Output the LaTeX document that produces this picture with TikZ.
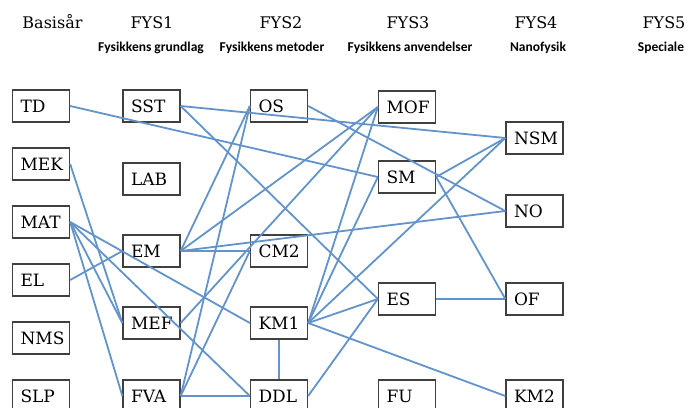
\documentclass[tikz,border=0pt]{standalone}
\usepackage{fontspec}
\setmainfont{DejaVu Serif}
\newfontfamily\subfont{Carlito}
\definecolor{linec}{RGB}{98,148,202}
\definecolor{boxc}{RGB}{64,64,64}
\tikzset{
  bx/.style={draw=boxc, line width=1.3pt, minimum width=57pt, minimum height=32pt,
    text width=41pt, align=left, inner xsep=8pt, inner ysep=0pt,
    font=\fontsize{17}{17}\selectfont},
  ln/.style={draw=linec, line width=1.8pt},
  hd/.style={font=\fontsize{16}{16}\selectfont, inner sep=0pt, anchor=base},
  sub/.style={font=\subfont\bfseries\fontsize{13.5}{13.5}\selectfont, inner sep=0pt, anchor=base}
}
\begin{document}
\begin{tikzpicture}[x=1pt,y=-1pt]
\useasboundingbox (0,0) rectangle (688,407);
\clip (0,0) rectangle (688,407);
% headers
\node[hd] (h0) at (52.5,28) {Basisår};
\node[hd] (h1) at (152,28) {FYS1};
\node[hd] (h2) at (281,28) {FYS2};
\node[hd] (h3) at (408,28) {FYS3};
\node[hd] (h4) at (536,28) {FYS4};
\node[hd] (h5) at (664,28) {FYS5};
\node[sub] (s1) at (151,51) {Fysikkens grundlag};
\node[sub] (s2) at (272,51) {Fysikkens metoder};
\node[sub] (s3) at (410,51) {Fysikkens anvendelser};
\node[sub] (s4) at (538,51) {Nanofysik};
\node[sub] (s5) at (661,51) {Speciale};
% column 0
\node[bx] (TD)  at (41,106) {TD};
\node[bx] (MEK) at (41,164) {MEK};
\node[bx] (MAT) at (41,222) {MAT};
\node[bx] (EL)  at (41,280) {EL};
\node[bx] (NMS) at (41,338) {NMS};
\node[bx] (SLP) at (41,396) {SLP};
% column 1
\node[bx] (SST) at (151.5,106) {SST};
\node[bx] (LAB) at (151.5,179) {LAB};
\node[bx] (EM)  at (151.5,251) {EM};
\node[bx] (MEF) at (151.5,323) {MEF};
\node[bx] (FVA) at (151.5,396) {FVA};
% column 2
\node[bx] (OS)  at (279,106) {OS};
\node[bx] (CM2) at (279,251) {CM2};
\node[bx] (KM1) at (279,323) {KM1};
\node[bx] (DDL) at (279,396) {DDL};
% column 3
\node[bx] (MOF) at (407,107) {MOF};
\node[bx] (SM)  at (407,177) {SM};
\node[bx] (ES)  at (407,299) {ES};
\node[bx] (FU)  at (407,396) {FU};
% column 4
\node[bx] (NSM) at (534.5,138) {NSM};
\node[bx] (NO)  at (534.5,211) {NO};
\node[bx] (OF)  at (534.5,299) {OF};
\node[bx] (KM2) at (534.5,396) {KM2};
% connectors
\draw[ln] (TD.east) -- (SM.west);
\draw[ln] (SST.east) -- (NSM.west);
\draw[ln] (SST.east) -- (ES.west);
\draw[ln] (MEK.east) -- (MEF.west);
\draw[ln] (MAT.east) -- (MEF.west);
\draw[ln] (MAT.east) -- (FVA.west);
\draw[ln] (MAT.east) -- (KM1.west);
\draw[ln] (MAT.east) -- (DDL.west);
\draw[ln] (EL.east) -- (EM.west);
\draw[ln] (OS.west) -- (EM.east);
\draw[ln] (OS.west) -- (FVA.east);
\draw[ln] (OS.east) -- (NO.west);
\draw[ln] (MOF.west) -- (EM.east);
\draw[ln] (MOF.west) -- (MEF.east);
\draw[ln] (MOF.west) -- (KM1.east);
\draw[ln] (EM.east) -- (CM2.west);
\draw[ln] (EM.east) -- (NO.west);
\draw[ln] (FVA.east) -- (CM2.west);
\draw[ln] (FVA.east) -- (DDL.west);
\draw[ln] (KM1.south) -- (DDL.north);
\draw[ln] (KM1.east) -- (SM.west);
\draw[ln] (KM1.east) -- (NSM.west);
\draw[ln] (KM1.east) -- (ES.west);
\draw[ln] (KM1.east) -- (KM2.west);
\draw[ln] (DDL.east) -- (ES.west);
\draw[ln] (SM.east) -- (NSM.west);
\draw[ln] (SM.east) -- (OF.west);
\draw[ln] (ES.east) -- (OF.west);
\end{tikzpicture}
\end{document}
